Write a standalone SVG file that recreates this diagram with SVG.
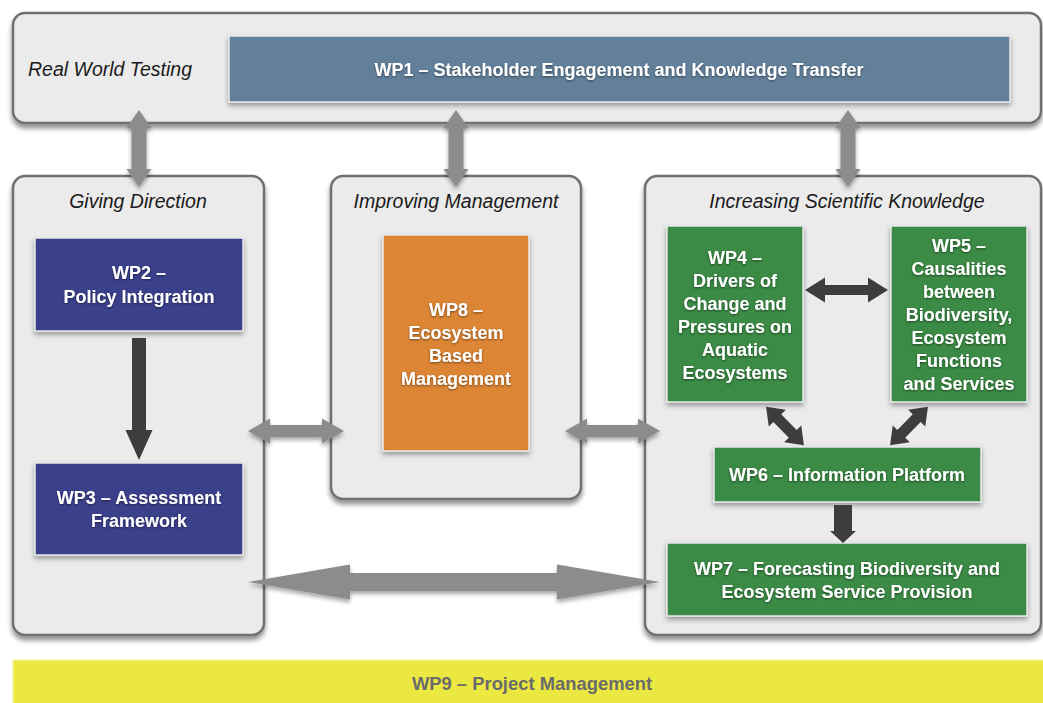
<svg xmlns="http://www.w3.org/2000/svg" width="1043" height="703" viewBox="0 0 1043 703">
<defs>
<filter id="sh" x="-10%" y="-10%" width="120%" height="130%">
<feDropShadow dx="0" dy="4" stdDeviation="2.5" flood-color="#000" flood-opacity="0.45"/>
</filter>
<filter id="bsh" x="-10%" y="-10%" width="120%" height="130%">
<feDropShadow dx="0" dy="3" stdDeviation="2.5" flood-color="#000" flood-opacity="0.35"/>
</filter>
<filter id="tsh" x="-10%" y="-30%" width="120%" height="160%">
<feDropShadow dx="0" dy="1" stdDeviation="1" flood-color="#000" flood-opacity="0.5"/>
</filter>
<filter id="ash" x="-20%" y="-20%" width="140%" height="160%">
<feDropShadow dx="0" dy="3" stdDeviation="2" flood-color="#000" flood-opacity="0.35"/>
</filter>
</defs>
<style>
.cont{fill:#ebebeb;stroke:#6f6f6f;stroke-width:2.5}
.box{stroke:#e8e8e8;stroke-width:1.5}
.title{font-family:"Liberation Sans",Arial,sans-serif;font-style:italic;font-size:19.5px;fill:#1a1a1a}
.lbl{font-family:"Liberation Sans",Arial,sans-serif;font-weight:bold;font-size:18px;fill:#ffffff;text-anchor:middle}
.ga{fill:#8c8c8c}
.da{fill:#3d3d3d}
</style>
<rect width="1043" height="703" fill="#ffffff"/>

<g id="real-world-testing">
<rect class="cont" x="13" y="13" width="1028" height="110" rx="12" filter="url(#sh)"/>
<text class="title" x="28" y="76">Real World Testing</text>
</g>
<g id="giving-direction">
<rect class="cont" x="13" y="176" width="251" height="459" rx="12" filter="url(#sh)"/>
<text class="title" x="138" y="208" text-anchor="middle">Giving Direction</text>
</g>
<g id="improving-management">
<rect class="cont" x="331" y="176" width="250" height="323" rx="12" filter="url(#sh)"/>
<text class="title" x="456" y="208" text-anchor="middle">Improving Management</text>
</g>
<g id="increasing-knowledge">
<rect class="cont" x="645" y="176" width="396" height="459" rx="12" filter="url(#sh)"/>
<text class="title" x="847" y="208" text-anchor="middle">Increasing Scientific Knowledge</text>
</g>

<g id="wp1">
<rect class="box" x="229" y="36" width="781" height="66" fill="#64809a" filter="url(#bsh)"/>
<text class="lbl" x="619" y="76" font-size="18.3" filter="url(#tsh)">WP1 – Stakeholder Engagement and Knowledge Transfer</text>
</g>
<g id="wp2">
<rect class="box" x="35" y="238" width="208" height="93" fill="#3b3f8b" filter="url(#bsh)"/>
<text class="lbl" x="139" y="279" filter="url(#tsh)">WP2 –</text>
<text class="lbl" x="139" y="303" filter="url(#tsh)">Policy Integration</text>
</g>
<g id="wp3">
<rect class="box" x="35" y="463" width="208" height="92" fill="#3b3f8b" filter="url(#bsh)"/>
<text class="lbl" x="139" y="504" filter="url(#tsh)">WP3 – Assessment</text>
<text class="lbl" x="139" y="527" filter="url(#tsh)">Framework</text>
</g>
<g id="wp8">
<rect class="box" x="383" y="235" width="146" height="216" fill="#dc8534" filter="url(#bsh)"/>
<text class="lbl" x="456" y="316" filter="url(#tsh)">WP8 –</text>
<text class="lbl" x="456" y="339" filter="url(#tsh)">Ecosystem</text>
<text class="lbl" x="456" y="362" filter="url(#tsh)">Based</text>
<text class="lbl" x="456" y="385" filter="url(#tsh)">Management</text>
</g>
<g id="wp4">
<rect class="box" x="667" y="226" width="136" height="176" fill="#3a8a45" filter="url(#bsh)"/>
<text class="lbl" x="735" y="264" filter="url(#tsh)">WP4 –</text>
<text class="lbl" x="735" y="287" filter="url(#tsh)">Drivers of</text>
<text class="lbl" x="735" y="310" filter="url(#tsh)">Change and</text>
<text class="lbl" x="735" y="333" filter="url(#tsh)">Pressures on</text>
<text class="lbl" x="735" y="356" filter="url(#tsh)">Aquatic</text>
<text class="lbl" x="735" y="379" filter="url(#tsh)">Ecosystems</text>
</g>
<g id="wp5">
<rect class="box" x="891" y="226" width="136" height="176" fill="#3a8a45" filter="url(#bsh)"/>
<text class="lbl" x="959" y="252" filter="url(#tsh)">WP5 –</text>
<text class="lbl" x="959" y="275" filter="url(#tsh)">Causalities</text>
<text class="lbl" x="959" y="298" filter="url(#tsh)">between</text>
<text class="lbl" x="959" y="321" filter="url(#tsh)">Biodiversity,</text>
<text class="lbl" x="959" y="344" filter="url(#tsh)">Ecosystem</text>
<text class="lbl" x="959" y="367" filter="url(#tsh)">Functions</text>
<text class="lbl" x="959" y="390" filter="url(#tsh)">and Services</text>
</g>
<g id="wp6">
<rect class="box" x="714" y="447" width="267" height="55" fill="#3a8a45" filter="url(#bsh)"/>
<text class="lbl" x="847" y="481" filter="url(#tsh)">WP6 – Information Platform</text>
</g>
<g id="wp7">
<rect class="box" x="667" y="543" width="360" height="73" fill="#3a8a45" filter="url(#bsh)"/>
<text class="lbl" x="847" y="575" filter="url(#tsh)">WP7 – Forecasting Biodiversity and</text>
<text class="lbl" x="847" y="598" filter="url(#tsh)">Ecosystem Service Provision</text>
</g>
<g id="wp9">
<rect x="13" y="660" width="1040" height="60" fill="#ece842" stroke="#f4f3a0" stroke-width="1.5"/>
<text x="532" y="690" font-family="'Liberation Sans',Arial,sans-serif" font-weight="bold" font-size="18.4" fill="#6b6b6b" text-anchor="middle">WP9 – Project Management</text>
</g>

<g id="connectors">
<g filter="url(#ash)">
<path class="ga" d="M139,110 L151.5,128 L146.5,128 L146.5,169 L151.5,169 L139,187 L126.5,169 L131.5,169 L131.5,128 L126.5,128 Z"/>
<path class="ga" d="M456,110 L468.5,128 L463.5,128 L463.5,169 L468.5,169 L456,187 L443.5,169 L448.5,169 L448.5,128 L443.5,128 Z"/>
<path class="ga" d="M848,110 L860.5,128 L855.5,128 L855.5,169 L860.5,169 L848,187 L835.5,169 L840.5,169 L840.5,128 L835.5,128 Z"/>
<path class="ga" d="M248,431 L270,418.5 L270,425 L322,425 L322,418.5 L344,431 L322,443.5 L322,437 L270,437 L270,443.5 Z"/>
<path class="ga" d="M565,431 L587,418.5 L587,425 L638,425 L638,418.5 L660,431 L638,443.5 L638,437 L587,437 L587,443.5 Z"/>
<path class="ga" d="M248,582 L350,564.5 L350,573 L557,573 L557,564.5 L660,582 L557,599.5 L557,591 L350,591 L350,599.5 Z"/>
</g>
<path class="da" d="M132,338 L146,338 L146,430 L152.5,430 L139,460 L125.5,430 L132,430 Z"/>
<path class="da" d="M805,290 L825,277.5 L825,285 L868,285 L868,277.5 L888,290 L868,302.5 L868,295 L825,295 L825,302.5 Z"/>
<path class="da" transform="translate(785,426) rotate(45.5)" d="M-27,0 L-11,-12 L-11,-5.5 L11,-5.5 L11,-12 L27,0 L11,12 L11,5.5 L-11,5.5 L-11,12 Z"/>
<path class="da" transform="translate(909,426) rotate(134.5)" d="M-27,0 L-11,-12 L-11,-5.5 L11,-5.5 L11,-12 L27,0 L11,12 L11,5.5 L-11,5.5 L-11,12 Z"/>
<path class="da" d="M834,505 L852,505 L852,531 L856,531 L843,543 L830,531 L834,531 Z"/>
</g>
</svg>
